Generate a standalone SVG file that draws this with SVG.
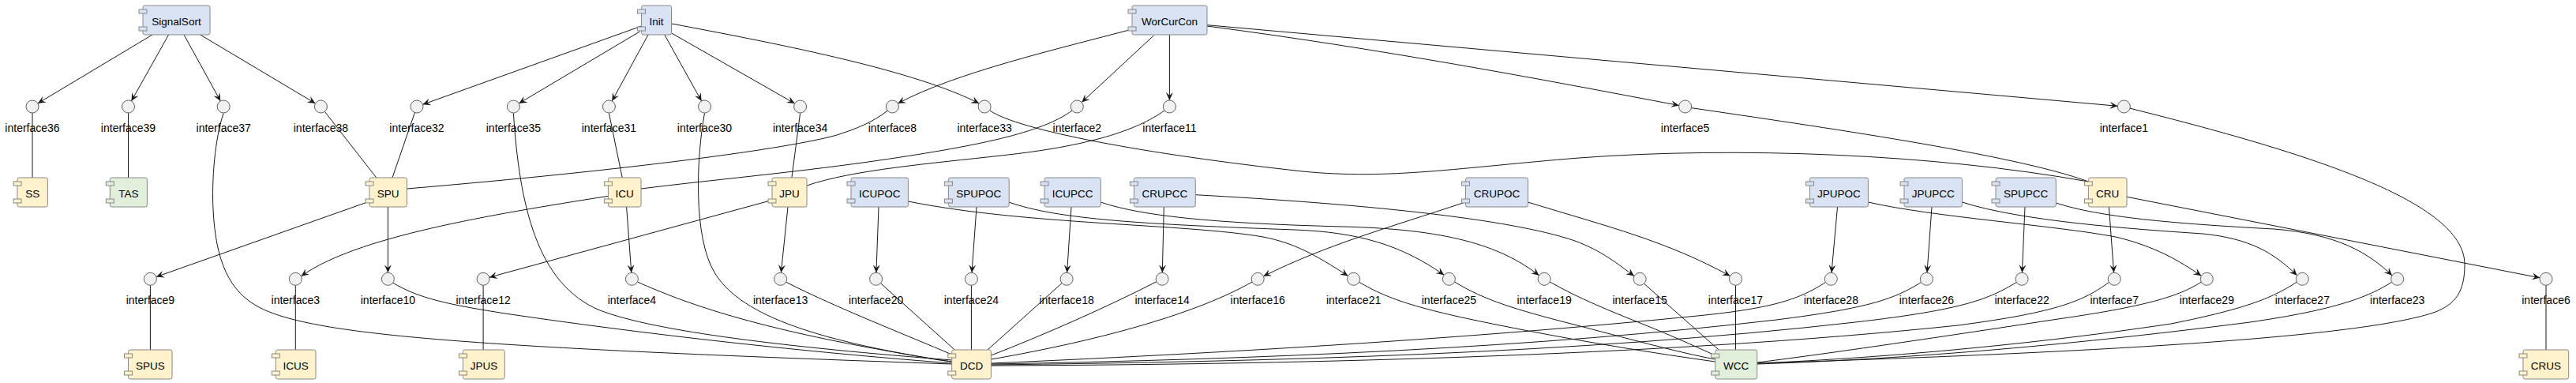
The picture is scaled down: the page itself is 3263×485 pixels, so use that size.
<svg xmlns="http://www.w3.org/2000/svg" width="3263" height="485" viewBox="0 0 3263 485">
<style>
.b{fill:#DAE3F3;stroke:#888;stroke-width:1}
.y{fill:#FFF2CC;stroke:#888;stroke-width:1}
.g{fill:#E2EFDA;stroke:#888;stroke-width:1}
.nm{font-family:"Liberation Sans",Arial,sans-serif;font-size:13.5px;text-anchor:middle;fill:#000}
.lb{font-family:"Liberation Sans",Arial,sans-serif;font-size:14px;text-anchor:middle;fill:#000}
.c{fill:#F1F1F1;stroke:#5f5f5f;stroke-width:1}
.e{fill:none;stroke:#181818;stroke-width:1}
.a{marker-end:url(#ah)}
</style>
<defs>
<marker id="ah" viewBox="0 0 10 9" refX="10" refY="4.5" markerWidth="10" markerHeight="9" markerUnits="userSpaceOnUse" orient="auto">
<path d="M0,0 L10,4.5 L0,9 L4,4.5 Z" fill="#181818"/>
</marker>
</defs>
<rect width="3263" height="485" fill="#fff"/>
<g id="connectors">
<path class="e a" d="M193,44 L47.9,130.9"/>
<path class="e a" d="M213.6,44 L166.4,128"/>
<path class="e a" d="M233,44 L279.3,128"/>
<path class="e a" d="M253.6,44 L399.5,130.9"/>
<path class="e a" d="M812.5,33 L535.5,132.3"/>
<path class="e a" d="M810.4,40 L657.3,130.9"/>
<path class="e a" d="M821,44 L775.2,128"/>
<path class="e a" d="M841.8,44 L888.6,128"/>
<path class="e a" d="M850.7,42 L1006.7,131"/>
<path class="e a" d="M850.7,30 C1000,58 1160,90 1240.2,130.9"/>
<path class="e a" d="M1434,37 C1340,62 1210,92 1137.3,131"/>
<path class="e a" d="M1461.4,45 L1370.2,129.6"/>
<path class="e a" d="M1481.4,44 L1481.4,127"/>
<path class="e a" d="M1529,33 C1750,62 1950,100 2126.7,133.5"/>
<path class="e a" d="M1529,31.7 L2682.4,134.3"/>
<path class="e a" d="M468,255 L197.9,350.6"/>
<path class="e a" d="M491.4,262 L491.4,345.3"/>
<path class="e a" d="M770.4,248.3 C620,272 450,300 381.5,349.8"/>
<path class="e a" d="M793.6,262 L799.8,345.3"/>
<path class="e a" d="M978.2,253.3 L619.8,351.2"/>
<path class="e a" d="M998,262 L989.4,345.3"/>
<path class="e a" d="M1113,262 L1109.9,345.3"/>
<path class="e a" d="M1150.4,255 C1300,285 1500,283 1600,300 C1640,308 1665,322 1707.6,349.4"/>
<path class="e a" d="M1237,262 L1231,345.3"/>
<path class="e a" d="M1278,256 C1340,278 1450,284 1640,291 C1720,294 1775,310 1829.2,348.3"/>
<path class="e a" d="M1357,262 L1351.6,345.3"/>
<path class="e a" d="M1394.3,256 C1450,275 1550,283 1700,287 C1830,290 1900,310 1949.5,348.8"/>
<path class="e a" d="M1474.3,262 L1472.3,345.3"/>
<path class="e a" d="M1514.3,246.7 C1720,258 1910,276 1995,305 C2030,318 2050,335 2070,349.5"/>
<path class="e a" d="M1854,256.7 C1760,288 1680,310 1600.4,349.8"/>
<path class="e a" d="M1935.4,256 C2040,288 2110,305 2191.5,349.4"/>
<path class="e a" d="M2327.5,262 L2320,345.3"/>
<path class="e a" d="M2366.4,256 C2450,275 2600,285 2680,300 C2730,312 2760,330 2788.4,349.3"/>
<path class="e a" d="M2447,262 L2441,345.3"/>
<path class="e a" d="M2485.4,256 C2560,280 2700,290 2790,296 C2850,302 2880,320 2909.7,348.8"/>
<path class="e a" d="M2565,262 L2561.4,345.3"/>
<path class="e a" d="M2604.3,257 C2660,275 2750,283 2880,290 C2960,296 3000,320 3030,348.8"/>
<path class="e a" d="M2671.4,262 L2677.6,345.3"/>
<path class="e a" d="M2694,249.3 L3217.2,351.8"/>
<path class="e" d="M41,143 L41,225"/>
<path class="e" d="M162.5,143 L162.5,225"/>
<path class="e" d="M283.2,143.3 C272,175 268,230 270,265 C273,330 290,370 330,390 C400,425 600,440 1205.7,461"/>
<path class="e" d="M411.3,141.3 L476.8,225"/>
<path class="e" d="M525.4,142.6 L497,225"/>
<path class="e" d="M650.4,143.3 C658,260 680,360 760,393 C830,420 1000,440 1205.7,456"/>
<path class="e" d="M892.5,143.3 C882,200 878,300 905,345 C935,395 1020,430 1205.7,458"/>
<path class="e" d="M771.4,143.3 L788.2,225"/>
<path class="e" d="M1013.6,143.3 L1002.9,225"/>
<path class="e" d="M1124.3,140.1 C1105,155 1085,163 1060,171 C1000,188 800,215 515.4,239"/>
<path class="e" d="M1253.5,139.8 C1290,165 1450,195 1650,217 C1760,228 1850,212 2000,200 C2200,185 2450,195 2645.4,230"/>
<path class="e" d="M2142.4,136.6 C2300,160 2550,195 2645.4,230"/>
<path class="e" d="M1358,140 C1320,168 1240,185 1100,205 C1000,219 900,228 812,239"/>
<path class="e" d="M1475,140 C1440,165 1380,185 1268,197 C1180,207 1080,215 1022,235"/>
<path class="e" d="M2698.1,137.2 C2950,200 3122,260 3122,335 C3122,370 3110,385 3085,395 C3000,425 2700,445 2225.7,460"/>
<path class="e" d="M190.4,361.3 L190.4,443"/>
<path class="e" d="M374.3,361.3 L374.3,443"/>
<path class="e" d="M497.8,358.1 C530,378 570,386 640,397 C850,428 1050,448 1205.7,460"/>
<path class="e" d="M807.5,357 C870,385 950,412 1100,440 C1150,449 1180,455 1205.7,458"/>
<path class="e" d="M612.1,361.3 L612.1,443"/>
<path class="e" d="M995.6,357.2 C1060,390 1150,425 1205.7,449"/>
<path class="e" d="M1115.5,358.7 L1209.6,443.3"/>
<path class="e" d="M1230.4,361.3 L1230.4,443"/>
<path class="e" d="M1345.1,358.6 L1250.7,443.3"/>
<path class="e" d="M1464.9,356.7 C1400,390 1320,425 1255.4,450"/>
<path class="e" d="M1586,357 C1520,395 1400,430 1255.4,455"/>
<path class="e" d="M1721.5,357.2 C1760,380 1800,392 1900,412 C2000,432 2100,448 2172.7,458"/>
<path class="e" d="M1842.5,357 C1880,380 1920,392 1990,410 C2060,428 2120,445 2172.7,455"/>
<path class="e" d="M1963.2,357 C2000,378 2040,394 2080,410 C2120,426 2150,440 2172.7,450"/>
<path class="e" d="M2082.5,359.2 L2177.5,443.3"/>
<path class="e" d="M2198.5,361.3 L2198.5,443"/>
<path class="e" d="M2312.5,357.5 C2280,378 2250,390 2150,400 C1900,425 1600,445 1255.4,460"/>
<path class="e" d="M2433.5,357.5 C2400,378 2370,390 2250,405 C1950,440 1600,455 1255.4,461"/>
<path class="e" d="M2554.3,357.5 C2520,378 2490,392 2350,408 C2000,448 1600,458 1255.4,462"/>
<path class="e" d="M2671.4,357.5 C2640,380 2610,395 2480,412 C2100,452 1600,462 1255.4,463"/>
<path class="e" d="M2788.3,357.2 C2760,375 2720,388 2600,405 C2450,428 2300,450 2225.7,459"/>
<path class="e" d="M2909.3,357.2 C2880,376 2850,390 2750,410 C2550,440 2350,455 2225.7,460"/>
<path class="e" d="M3029.7,357.2 C3000,376 2960,392 2850,408 C2600,440 2400,455 2225.7,461"/>
<path class="e" d="M3225,361.3 L3225,443"/>
</g>
<g id="SignalSort"><rect class="b" x="181" y="7" width="85" height="37" rx="2.5"/><rect class="b" x="176" y="12" width="10" height="5"/><rect class="b" x="176" y="34" width="10" height="5"/><text class="nm" x="223.5" y="31.5">SignalSort</text></g>
<g id="Init"><rect class="b" x="812.5" y="7" width="38" height="37" rx="2.5"/><rect class="b" x="807.5" y="12" width="10" height="5"/><rect class="b" x="807.5" y="34" width="10" height="5"/><text class="nm" x="831.5" y="31.5">Init</text></g>
<g id="WorCurCon"><rect class="b" x="1434" y="7" width="95" height="37" rx="2.5"/><rect class="b" x="1429" y="12" width="10" height="5"/><rect class="b" x="1429" y="34" width="10" height="5"/><text class="nm" x="1481.5" y="31.5">WorCurCon</text></g>
<g id="SS"><rect class="y" x="22" y="225" width="38.4" height="37" rx="2.5"/><rect class="y" x="17" y="230" width="10" height="5"/><rect class="y" x="17" y="252" width="10" height="5"/><text class="nm" x="41.2" y="249.5">SS</text></g>
<g id="TAS"><rect class="g" x="139.3" y="225" width="47.1" height="37" rx="2.5"/><rect class="g" x="134.3" y="230" width="10" height="5"/><rect class="g" x="134.3" y="252" width="10" height="5"/><text class="nm" x="162.9" y="249.5">TAS</text></g>
<g id="SPU"><rect class="y" x="468" y="225" width="47.4" height="37" rx="2.5"/><rect class="y" x="463" y="230" width="10" height="5"/><rect class="y" x="463" y="252" width="10" height="5"/><text class="nm" x="491.7" y="249.5">SPU</text></g>
<g id="ICU"><rect class="y" x="770.4" y="225" width="41.6" height="37" rx="2.5"/><rect class="y" x="765.4" y="230" width="10" height="5"/><rect class="y" x="765.4" y="252" width="10" height="5"/><text class="nm" x="791.2" y="249.5">ICU</text></g>
<g id="JPU"><rect class="y" x="978" y="225" width="44" height="37" rx="2.5"/><rect class="y" x="973" y="230" width="10" height="5"/><rect class="y" x="973" y="252" width="10" height="5"/><text class="nm" x="1000" y="249.5">JPU</text></g>
<g id="ICUPOC"><rect class="b" x="1078" y="225" width="72.4" height="37" rx="2.5"/><rect class="b" x="1073" y="230" width="10" height="5"/><rect class="b" x="1073" y="252" width="10" height="5"/><text class="nm" x="1114.2" y="249.5">ICUPOC</text></g>
<g id="SPUPOC"><rect class="b" x="1201.4" y="225" width="76.8" height="37" rx="2.5"/><rect class="b" x="1196.4" y="230" width="10" height="5"/><rect class="b" x="1196.4" y="252" width="10" height="5"/><text class="nm" x="1239.8" y="249.5">SPUPOC</text></g>
<g id="ICUPCC"><rect class="b" x="1323" y="225" width="71.3" height="37" rx="2.5"/><rect class="b" x="1318" y="230" width="10" height="5"/><rect class="b" x="1318" y="252" width="10" height="5"/><text class="nm" x="1358.7" y="249.5">ICUPCC</text></g>
<g id="CRUPCC"><rect class="b" x="1436.4" y="225" width="77.9" height="37" rx="2.5"/><rect class="b" x="1431.4" y="230" width="10" height="5"/><rect class="b" x="1431.4" y="252" width="10" height="5"/><text class="nm" x="1475.4" y="249.5">CRUPCC</text></g>
<g id="CRUPOC"><rect class="b" x="1856.5" y="225" width="79" height="37" rx="2.5"/><rect class="b" x="1851.5" y="230" width="10" height="5"/><rect class="b" x="1851.5" y="252" width="10" height="5"/><text class="nm" x="1896" y="249.5">CRUPOC</text></g>
<g id="JPUPOC"><rect class="b" x="2292.5" y="225" width="73.9" height="37" rx="2.5"/><rect class="b" x="2287.5" y="230" width="10" height="5"/><rect class="b" x="2287.5" y="252" width="10" height="5"/><text class="nm" x="2329.5" y="249.5">JPUPOC</text></g>
<g id="JPUPCC"><rect class="b" x="2412" y="225" width="73.4" height="37" rx="2.5"/><rect class="b" x="2407" y="230" width="10" height="5"/><rect class="b" x="2407" y="252" width="10" height="5"/><text class="nm" x="2448.7" y="249.5">JPUPCC</text></g>
<g id="SPUPCC"><rect class="b" x="2528" y="225" width="76.3" height="37" rx="2.5"/><rect class="b" x="2523" y="230" width="10" height="5"/><rect class="b" x="2523" y="252" width="10" height="5"/><text class="nm" x="2566.2" y="249.5">SPUPCC</text></g>
<g id="CRU"><rect class="y" x="2645.4" y="225" width="48.6" height="37" rx="2.5"/><rect class="y" x="2640.4" y="230" width="10" height="5"/><rect class="y" x="2640.4" y="252" width="10" height="5"/><text class="nm" x="2669.7" y="249.5">CRU</text></g>
<g id="SPUS"><rect class="y" x="162.5" y="443" width="55.5" height="37" rx="2.5"/><rect class="y" x="157.5" y="448" width="10" height="5"/><rect class="y" x="157.5" y="470" width="10" height="5"/><text class="nm" x="190.3" y="467.5">SPUS</text></g>
<g id="ICUS"><rect class="y" x="349.3" y="443" width="50.7" height="37" rx="2.5"/><rect class="y" x="344.3" y="448" width="10" height="5"/><rect class="y" x="344.3" y="470" width="10" height="5"/><text class="nm" x="374.7" y="467.5">ICUS</text></g>
<g id="JPUS"><rect class="y" x="586.4" y="443" width="52.9" height="37" rx="2.5"/><rect class="y" x="581.4" y="448" width="10" height="5"/><rect class="y" x="581.4" y="470" width="10" height="5"/><text class="nm" x="612.9" y="467.5">JPUS</text></g>
<g id="DCD"><rect class="y" x="1205.7" y="443" width="49.7" height="37" rx="2.5"/><rect class="y" x="1200.7" y="448" width="10" height="5"/><rect class="y" x="1200.7" y="470" width="10" height="5"/><text class="nm" x="1230.6" y="467.5">DCD</text></g>
<g id="WCC"><rect class="g" x="2172.7" y="443" width="53" height="37" rx="2.5"/><rect class="g" x="2167.7" y="448" width="10" height="5"/><rect class="g" x="2167.7" y="470" width="10" height="5"/><text class="nm" x="2199.2" y="467.5">WCC</text></g>
<g id="CRUS"><rect class="y" x="3196" y="443" width="57.7" height="37" rx="2.5"/><rect class="y" x="3191" y="448" width="10" height="5"/><rect class="y" x="3191" y="470" width="10" height="5"/><text class="nm" x="3224.9" y="467.5">CRUS</text></g>
<g id="interface36"><circle class="c" cx="41" cy="135" r="8"/><text class="lb" x="41" y="166.5">interface36</text></g>
<g id="interface39"><circle class="c" cx="162.5" cy="135" r="8"/><text class="lb" x="162.5" y="166.5">interface39</text></g>
<g id="interface37"><circle class="c" cx="283.2" cy="135" r="8"/><text class="lb" x="283.2" y="166.5">interface37</text></g>
<g id="interface38"><circle class="c" cx="406.4" cy="135" r="8"/><text class="lb" x="406.4" y="166.5">interface38</text></g>
<g id="interface32"><circle class="c" cx="528" cy="135" r="8"/><text class="lb" x="528" y="166.5">interface32</text></g>
<g id="interface35"><circle class="c" cx="650.4" cy="135" r="8"/><text class="lb" x="650.4" y="166.5">interface35</text></g>
<g id="interface31"><circle class="c" cx="771.4" cy="135" r="8"/><text class="lb" x="771.4" y="166.5">interface31</text></g>
<g id="interface30"><circle class="c" cx="892.5" cy="135" r="8"/><text class="lb" x="892.5" y="166.5">interface30</text></g>
<g id="interface34"><circle class="c" cx="1013.6" cy="135" r="8"/><text class="lb" x="1013.6" y="166.5">interface34</text></g>
<g id="interface8"><circle class="c" cx="1130.4" cy="135" r="8"/><text class="lb" x="1130.4" y="166.5">interface8</text></g>
<g id="interface33"><circle class="c" cx="1247.1" cy="135" r="8"/><text class="lb" x="1247.1" y="166.5">interface33</text></g>
<g id="interface2"><circle class="c" cx="1364.3" cy="135" r="8"/><text class="lb" x="1364.3" y="166.5">interface2</text></g>
<g id="interface11"><circle class="c" cx="1481.4" cy="135" r="8"/><text class="lb" x="1481.4" y="166.5">interface11</text></g>
<g id="interface5"><circle class="c" cx="2134.6" cy="135" r="8"/><text class="lb" x="2134.6" y="166.5">interface5</text></g>
<g id="interface1"><circle class="c" cx="2690.4" cy="135" r="8"/><text class="lb" x="2690.4" y="166.5">interface1</text></g>
<g id="interface9"><circle class="c" cx="190.4" cy="353.3" r="8"/><text class="lb" x="190.4" y="385">interface9</text></g>
<g id="interface3"><circle class="c" cx="374.3" cy="353.3" r="8"/><text class="lb" x="374.3" y="385">interface3</text></g>
<g id="interface10"><circle class="c" cx="491.4" cy="353.3" r="8"/><text class="lb" x="491.4" y="385">interface10</text></g>
<g id="interface12"><circle class="c" cx="612.1" cy="353.3" r="8"/><text class="lb" x="612.1" y="385">interface12</text></g>
<g id="interface4"><circle class="c" cx="800.4" cy="353.3" r="8"/><text class="lb" x="800.4" y="385">interface4</text></g>
<g id="interface13"><circle class="c" cx="988.6" cy="353.3" r="8"/><text class="lb" x="988.6" y="385">interface13</text></g>
<g id="interface20"><circle class="c" cx="1109.6" cy="353.3" r="8"/><text class="lb" x="1109.6" y="385">interface20</text></g>
<g id="interface24"><circle class="c" cx="1230.4" cy="353.3" r="8"/><text class="lb" x="1230.4" y="385">interface24</text></g>
<g id="interface18"><circle class="c" cx="1351.1" cy="353.3" r="8"/><text class="lb" x="1351.1" y="385">interface18</text></g>
<g id="interface14"><circle class="c" cx="1472.1" cy="353.3" r="8"/><text class="lb" x="1472.1" y="385">interface14</text></g>
<g id="interface16"><circle class="c" cx="1593.2" cy="353.3" r="8"/><text class="lb" x="1593.2" y="385">interface16</text></g>
<g id="interface21"><circle class="c" cx="1714.6" cy="353.3" r="8"/><text class="lb" x="1714.6" y="385">interface21</text></g>
<g id="interface25"><circle class="c" cx="1835.4" cy="353.3" r="8"/><text class="lb" x="1835.4" y="385">interface25</text></g>
<g id="interface19"><circle class="c" cx="1956.1" cy="353.3" r="8"/><text class="lb" x="1956.1" y="385">interface19</text></g>
<g id="interface15"><circle class="c" cx="2077.1" cy="353.3" r="8"/><text class="lb" x="2077.1" y="385">interface15</text></g>
<g id="interface17"><circle class="c" cx="2198.5" cy="353.3" r="8"/><text class="lb" x="2198.5" y="385">interface17</text></g>
<g id="interface28"><circle class="c" cx="2319.3" cy="353.3" r="8"/><text class="lb" x="2319.3" y="385">interface28</text></g>
<g id="interface26"><circle class="c" cx="2440.4" cy="353.3" r="8"/><text class="lb" x="2440.4" y="385">interface26</text></g>
<g id="interface22"><circle class="c" cx="2561.1" cy="353.3" r="8"/><text class="lb" x="2561.1" y="385">interface22</text></g>
<g id="interface7"><circle class="c" cx="2678.2" cy="353.3" r="8"/><text class="lb" x="2678.2" y="385">interface7</text></g>
<g id="interface29"><circle class="c" cx="2795.3" cy="353.3" r="8"/><text class="lb" x="2795.3" y="385">interface29</text></g>
<g id="interface27"><circle class="c" cx="2916.3" cy="353.3" r="8"/><text class="lb" x="2916.3" y="385">interface27</text></g>
<g id="interface23"><circle class="c" cx="3036.7" cy="353.3" r="8"/><text class="lb" x="3036.7" y="385">interface23</text></g>
<g id="interface6"><circle class="c" cx="3225" cy="353.3" r="8"/><text class="lb" x="3225" y="385">interface6</text></g>
</svg>
